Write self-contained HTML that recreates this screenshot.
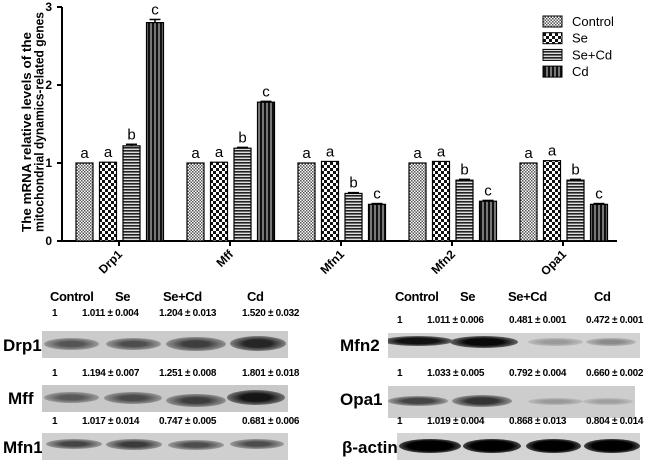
<!DOCTYPE html>
<html><head><meta charset="utf-8"><style>
body{margin:0;background:#fff;width:650px;height:460px;overflow:hidden;position:relative;font-family:"Liberation Sans",Arial,sans-serif}
.t{position:absolute;font-weight:bold;white-space:nowrap;color:#000}
.h{font-size:13px;top:289px;letter-spacing:-0.4px}
.v{font-size:10px;font-family:"Liberation Sans Narrow","Liberation Sans",sans-serif;letter-spacing:-0.3px}
.lab{font-size:17px;font-weight:bold;position:absolute;line-height:1}
.blot{position:absolute;background:#c9c9c9;overflow:hidden}
.band{position:absolute;border-radius:50%}
</style></head><body>
<svg id="chart" width="650" height="285" style="position:absolute;left:0;top:0">
<defs>
<pattern id="pCtrl" width="3" height="3" patternUnits="userSpaceOnUse"><rect width="3" height="3" fill="#fff"/><rect width="1.5" height="1.5" fill="#555"/><rect x="1.5" y="1.5" width="1.5" height="1.5" fill="#555"/></pattern>
<pattern id="pSe" width="6" height="6" patternUnits="userSpaceOnUse"><rect width="6" height="6" fill="#fff"/><rect width="3" height="3" fill="#111"/><rect x="3" y="3" width="3" height="3" fill="#111"/></pattern>
<pattern id="pSeCd" width="4" height="3" patternUnits="userSpaceOnUse"><rect width="4" height="3" fill="#ddd"/><rect width="4" height="1.6" fill="#222"/></pattern>
<pattern id="pCd" width="4" height="4" patternUnits="userSpaceOnUse"><rect width="4" height="4" fill="#111"/><rect x="2.5" width="1" height="4" fill="#ddd"/></pattern>
</defs>
<g id="plot"></g>
</svg>
<script>
const categories=["Drp1","Mff","Mfn1","Mfn2","Opa1"];
const seriesNames=["Control","Se","Se+Cd","Cd"];
const controlVals=[1,1,1,1,1];
const seVals=[1.01,1.01,1.02,1.02,1.03];
const seCdVals=[1.22,1.19,0.61,0.78,0.78];
const cdVals=[2.80,1.78,0.47,0.51,0.47];
const seCdErr=[0.02,0.01,0.01,0.01,0.01];
const cdErr=[0.04,0.01,0.01,0.01,0.01];
const letters=[["a","a","b","c"],["a","a","b","c"],["a","a","b","c"],["a","a","b","c"],["a","a","b","c"]];
const yTicks=[0,1,2,3];
const NS="http://www.w3.org/2000/svg";
const X0=62,X1=617,Y0=241,Y3=7;
function yS(v){return Y0-(Y0-Y3)*v/3;}
const band=(X1-X0)/categories.length;
function xS(ci,si){return X0+band*ci+14+si*23.5;}
const g=document.getElementById('plot');
function mk(tag,attrs,txt){const e=document.createElementNS(NS,tag);for(const k in attrs)e.setAttribute(k,attrs[k]);if(txt!==undefined)e.textContent=txt;g.appendChild(e);return e;}
const series=[controlVals,seVals,seCdVals,cdVals];
const errs=[null,null,seCdErr,cdErr];
const fills=["url(#pCtrl)","url(#pSe)","url(#pSeCd)","url(#pCd)"];
let ax=mk('line',{x1:X0,y1:Y3,x2:X0,y2:Y0,stroke:'#000','stroke-width':2});


let bx=mk('line',{x1:X0,y1:Y0,x2:X1,y2:Y0,stroke:'#000','stroke-width':2});


yTicks.forEach(t=>{
  const l=mk('line',{x1:X0-5,y1:yS(t),x2:X0,y2:yS(t),stroke:'#000','stroke-width':2});
  
  
  const tx=mk('text',{x:X0-10,y:yS(t)+4,'text-anchor':'end','font-size':12,'font-weight':'bold'},String(t));
  
  
});
categories.forEach((c,ci)=>{
  series.forEach((s,si)=>{
    const x=xS(ci,si),y=yS(s[ci]);
    const r=mk('rect',{x:x,y:y,width:17,height:Y0-y,fill:fills[si],stroke:'#000','stroke-width':1.2});
    
    
    let top=y;
    if(errs[si]){const e=errs[si][ci];const ey=yS(s[ci]+e);
      const el=mk('line',{x1:x+3,y1:ey,x2:x+14,y2:ey,stroke:'#000','stroke-width':1.5});
      
      
      mk('line',{x1:x+8.5,y1:ey,x2:x+8.5,y2:y,stroke:'#000','stroke-width':1.5});
      top=ey;}
    const lt=mk('text',{x:x+8.5,y:top-5,'text-anchor':'middle','font-size':15},letters[ci][si]);
    
    
  });
  const cx=xS(ci,0)+43;
  mk('line',{x1:cx,y1:Y0,x2:cx,y2:Y0+5,stroke:'#000','stroke-width':2});
  const xl=mk('text',{x:cx+4,y:Y0+14,'text-anchor':'end','font-size':12,'font-weight':'bold',transform:`rotate(-45 ${cx+4} ${Y0+14})`},c);
  
  
});
const yt=mk('text',{x:0,y:0,'font-size':13,'font-weight':'bold','text-anchor':'middle',transform:'translate(31,122) rotate(-90)'});


const ts1=document.createElementNS(NS,'tspan');ts1.setAttribute('x',-10);ts1.setAttribute('dy',0);ts1.setAttribute('textLength',200);ts1.setAttribute('lengthAdjust','spacingAndGlyphs');ts1.textContent='The mRNA relative levels of the';yt.appendChild(ts1);
const ts2=document.createElementNS(NS,'tspan');ts2.setAttribute('x',0);ts2.setAttribute('dy',12.5);ts2.setAttribute('textLength',220);ts2.setAttribute('lengthAdjust','spacingAndGlyphs');ts2.textContent='mitochondrial dynamics-related genes';yt.appendChild(ts2);
seriesNames.forEach((n,i)=>{
  const y=16+i*16.7;
  const sw=mk('rect',{x:543,y:y,width:19,height:11,fill:fills[i],stroke:'#000','stroke-width':1});
  
  
  const lt=mk('text',{x:572,y:y+10,'font-size':13},n);
  
  
});
</script>

<div class="t h" style="left:50px">Control</div>
<div class="t h" style="left:115px">Se</div>
<div class="t h" style="left:163px">Se+Cd</div>
<div class="t h" style="left:247px">Cd</div>

<div>
<div class="t v" style="left:52px;top:308px">1</div><div class="t v" style="left:82px;top:308px">1.011 ± 0.004</div><div class="t v" style="left:159px;top:308px">1.204 ± 0.013</div><div class="t v" style="left:242px;top:308px">1.520 ± 0.032</div></div>
<div class="lab" style="left:3px;top:337px">Drp1</div>
<div class="blot" style="left:42px;top:331px;width:246px;height:27px;background:#cbcbcb">
<div class="band" style="left:2px;top:7px;width:55px;height:12px;background:radial-gradient(ellipse,#555 30%,#9a9a9a 70%,transparent 100%)"></div>
<div class="band" style="left:64px;top:7px;width:55px;height:12px;background:radial-gradient(ellipse,#4d4d4d 30%,#999 70%,transparent 100%)"></div>
<div class="band" style="left:124px;top:6px;width:60px;height:14px;background:radial-gradient(ellipse,#3d3d3d 30%,#909090 70%,transparent 100%)"></div>
<div class="band" style="left:188px;top:5px;width:56px;height:15px;background:radial-gradient(ellipse,#262626 35%,#808080 70%,transparent 100%)"></div></div>

<div>
<div class="t v" style="left:52px;top:368px">1</div><div class="t v" style="left:82px;top:368px">1.194 ± 0.007</div><div class="t v" style="left:159px;top:368px">1.251 ± 0.008</div><div class="t v" style="left:242px;top:368px">1.801 ± 0.018</div></div>
<div class="lab" style="left:8px;top:390px">Mff</div>
<div class="blot" style="left:42px;top:385px;width:246px;height:27px;background:#c8c8c8">
<div class="band" style="left:2px;top:7px;width:55px;height:11px;background:radial-gradient(ellipse,#5a5a5a 30%,#9a9a9a 70%,transparent 100%)"></div>
<div class="band" style="left:62px;top:7px;width:58px;height:12px;background:radial-gradient(ellipse,#4a4a4a 30%,#959595 70%,transparent 100%)"></div>
<div class="band" style="left:124px;top:9px;width:60px;height:13px;background:radial-gradient(ellipse,#3d3d3d 30%,#909090 70%,transparent 100%)"></div>
<div class="band" style="left:185px;top:5px;width:58px;height:15px;background:radial-gradient(ellipse,#151515 35%,#707070 70%,transparent 100%)"></div></div>

<div>
<div class="t v" style="left:52px;top:416px">1</div><div class="t v" style="left:82px;top:416px">1.017 ± 0.014</div><div class="t v" style="left:159px;top:416px">0.747 ± 0.005</div><div class="t v" style="left:242px;top:416px">0.681 ± 0.006</div></div>
<div class="lab" style="left:3px;top:439px">Mfn1</div>
<div class="blot" style="left:42px;top:433px;width:246px;height:27px;background:#cfcfcf">
<div class="band" style="left:4px;top:6px;width:56px;height:10px;background:radial-gradient(ellipse,#444 30%,#999 70%,transparent 100%)"></div>
<div class="band" style="left:64px;top:6px;width:56px;height:11px;background:radial-gradient(ellipse,#3a3a3a 30%,#959595 70%,transparent 100%)"></div>
<div class="band" style="left:126px;top:7px;width:56px;height:10px;background:radial-gradient(ellipse,#4d4d4d 30%,#9a9a9a 70%,transparent 100%)"></div>
<div class="band" style="left:188px;top:6px;width:54px;height:10px;background:radial-gradient(ellipse,#4d4d4d 30%,#9a9a9a 70%,transparent 100%)"></div></div>

<div class="t h" style="left:395px">Control</div>
<div class="t h" style="left:460px">Se</div>
<div class="t h" style="left:508px">Se+Cd</div>
<div class="t h" style="left:594px">Cd</div>

<div>
<div class="t v" style="left:397px;top:315px">1</div><div class="t v" style="left:427px;top:315px">1.011 ± 0.006</div><div class="t v" style="left:509px;top:315px">0.481 ± 0.001</div><div class="t v" style="left:586px;top:315px">0.472 ± 0.001</div></div>
<div class="lab" style="left:340px;top:337px">Mfn2</div>
<div class="blot" style="left:388px;top:333px;width:252px;height:25px;background:#d2d2d2">
<div class="band" style="left:-5px;top:3px;width:70px;height:10px;background:radial-gradient(ellipse,#111 40%,#777 75%,transparent 100%)"></div>
<div class="band" style="left:62px;top:3px;width:68px;height:12px;background:radial-gradient(ellipse,#0a0a0a 40%,#707070 75%,transparent 100%)"></div>
<div class="band" style="left:140px;top:5px;width:55px;height:8px;background:radial-gradient(ellipse,#9a9a9a 30%,#bbb 70%,transparent 100%)"></div>
<div class="band" style="left:198px;top:5px;width:50px;height:8px;background:radial-gradient(ellipse,#8a8a8a 30%,#b5b5b5 70%,transparent 100%)"></div></div>

<div>
<div class="t v" style="left:397px;top:368px">1</div><div class="t v" style="left:427px;top:368px">1.033 ± 0.005</div><div class="t v" style="left:509px;top:368px">0.792 ± 0.004</div><div class="t v" style="left:586px;top:368px">0.660 ± 0.002</div></div>
<div class="lab" style="left:340px;top:391px">Opa1</div>
<div class="blot" style="left:388px;top:386px;width:247px;height:32px;background:#cdcdcd">
<div class="band" style="left:0px;top:10px;width:60px;height:10px;background:radial-gradient(ellipse,#444 35%,#999 70%,transparent 100%)"></div>
<div class="band" style="left:64px;top:9px;width:60px;height:12px;background:radial-gradient(ellipse,#333 35%,#909090 70%,transparent 100%)"></div>
<div class="band" style="left:140px;top:12px;width:55px;height:7px;background:radial-gradient(ellipse,#999 30%,#bbb 70%,transparent 100%)"></div>
<div class="band" style="left:195px;top:12px;width:50px;height:7px;background:radial-gradient(ellipse,#a0a0a0 30%,#bcbcbc 70%,transparent 100%)"></div></div>

<div>
<div class="t v" style="left:397px;top:416px">1</div><div class="t v" style="left:427px;top:416px">1.019 ± 0.004</div><div class="t v" style="left:509px;top:416px">0.868 ± 0.013</div><div class="t v" style="left:586px;top:416px">0.804 ± 0.014</div></div>
<div class="lab" style="left:342px;top:439px">β-actin</div>
<div class="blot" style="left:397px;top:433px;width:243px;height:27px;background:#d4d4d4">
<div class="band" style="left:2px;top:6px;width:62px;height:14px;background:radial-gradient(ellipse,#000 50%,#666 80%,transparent 100%)"></div>
<div class="band" style="left:66px;top:6px;width:58px;height:14px;background:radial-gradient(ellipse,#000 50%,#666 80%,transparent 100%)"></div>
<div class="band" style="left:129px;top:6px;width:55px;height:14px;background:radial-gradient(ellipse,#000 50%,#666 80%,transparent 100%)"></div>
<div class="band" style="left:187px;top:6px;width:56px;height:14px;background:radial-gradient(ellipse,#000 50%,#666 80%,transparent 100%)"></div></div>
</body></html>
